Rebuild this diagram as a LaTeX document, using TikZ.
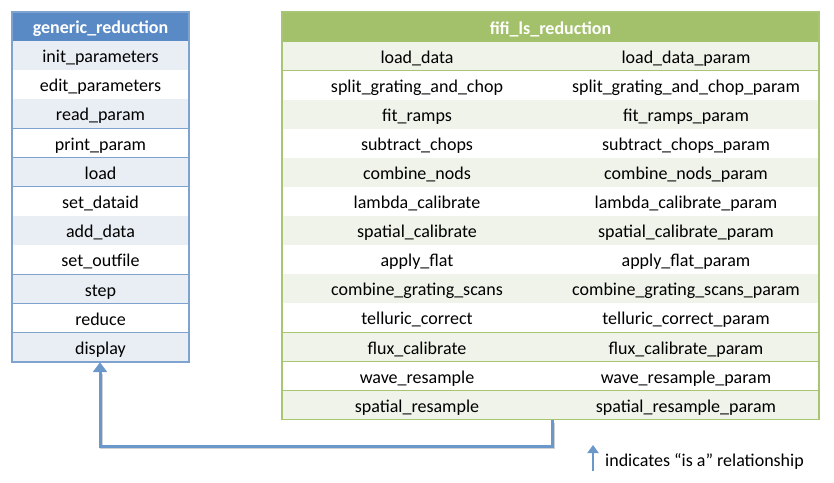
\documentclass[tikz,border=0pt]{standalone}
\usepackage{fontspec}
\setmainfont{Carlito}
\usetikzlibrary{arrows.meta}
\definecolor{bluehead}{HTML}{5A8AC6}
\definecolor{blueline}{HTML}{7EA3D0}
\definecolor{bluerow}{HTML}{E9EDF4}
\definecolor{greenhead}{HTML}{A3C16A}
\definecolor{greenline}{HTML}{A8C573}
\definecolor{greenrow}{HTML}{EFF3EA}
\definecolor{linkblue}{HTML}{6B98CB}
\tikzset{
  x=1pt, y=-1pt,
  cell/.style={font=\fontsize{18}{21}\selectfont, text=black, inner sep=0pt, anchor=base},
  headtext/.style={font=\fontsize{18}{21}\selectfont\bfseries, text=white, inner sep=0pt, anchor=base},
  isa/.style={draw=linkblue, line width=3pt, -{Triangle[width=14pt,length=10pt]}},
  isashadow/.style={draw=black!18, line width=3pt},
}
\begin{document}
\begin{tikzpicture}
\useasboundingbox (0,0) rectangle (834,482);
% ---- generic_reduction class box ----
\fill[bluehead] (12,12) rectangle (189,41);
\node[headtext] (gtitle) at (100.5,33.5) {generic\_reduction};
\foreach \name [count=\i] in {init\_parameters,edit\_parameters,read\_param,print\_param,load,set\_dataid,add\_data,set\_outfile,step,reduce,display}{
  \pgfmathsetmacro{\top}{41+(\i-1)*29.2}
  \pgfmathsetmacro{\bot}{41+\i*29.2}
  \pgfmathparse{mod(\i,2)==1 ? "bluerow" : "white"}
  \fill[\pgfmathresult] (12,\top) rectangle (189,\bot);
  \draw[blueline, line width=1.2pt] (12,\bot) -- (189,\bot);
  \node[cell] (g\i) at (100.5,{\top+21.5}) {\name};
}
\draw[blueline, line width=1.5pt] (12,12) rectangle (189,362.2);
\coordinate (gbot) at (100,362.2);
% ---- fifi_ls_reduction class box ----
\fill[greenhead] (282,12) rectangle (819,42);
\node[headtext] (ftitle) at (550.5,34) {fifi\_ls\_reduction};
\foreach \name/\pname [count=\i] in {load\_data/load\_data\_param,split\_grating\_and\_chop/split\_grating\_and\_chop\_param,fit\_ramps/fit\_ramps\_param,subtract\_chops/subtract\_chops\_param,combine\_nods/combine\_nods\_param,lambda\_calibrate/lambda\_calibrate\_param,spatial\_calibrate/spatial\_calibrate\_param,apply\_flat/apply\_flat\_param,combine\_grating\_scans/combine\_grating\_scans\_param,telluric\_correct/telluric\_correct\_param,flux\_calibrate/flux\_calibrate\_param,wave\_resample/wave\_resample\_param,spatial\_resample/spatial\_resample\_param}{
  \pgfmathsetmacro{\top}{42+(\i-1)*29.05}
  \pgfmathsetmacro{\bot}{42+\i*29.05}
  \pgfmathparse{mod(\i,2)==1 ? "greenrow" : "white"}
  \fill[\pgfmathresult] (282,\top) rectangle (819,\bot);
  \draw[greenline, line width=1.2pt] (282,\bot) -- (819,\bot);
  \node[cell] (fa\i) at (417,{\top+21.5}) {\name};
  \node[cell] (fb\i) at (686,{\top+21.5}) {\pname};
}
\draw[greenline, line width=1.5pt] (282,12) rectangle (819,419.6);
\coordinate (fbot) at (552,419.6);
% ---- "is a" connector, with a soft drop shadow ----
\coordinate (bend1) at (552,446);
\coordinate (bend2) at (100,446);
\draw[isashadow, shift={(1.5,1.5)}] (552,421) -- (552,446) -- (100,446) -- (100,372);
\draw[isa, line join=miter] (fbot) -- (bend1) -- (bend2) -- (gbot);
% ---- legend ----
\coordinate (legtail) at (593,471);
\coordinate (leghead) at (593,445);
\draw[isa, line width=2.5pt, -{Triangle[width=11pt,length=8pt]}] (legtail) -- (leghead);
\node[cell, anchor=base west] (legtext) at (605,466) {indicates “is a” relationship};
\end{tikzpicture}
\end{document}
